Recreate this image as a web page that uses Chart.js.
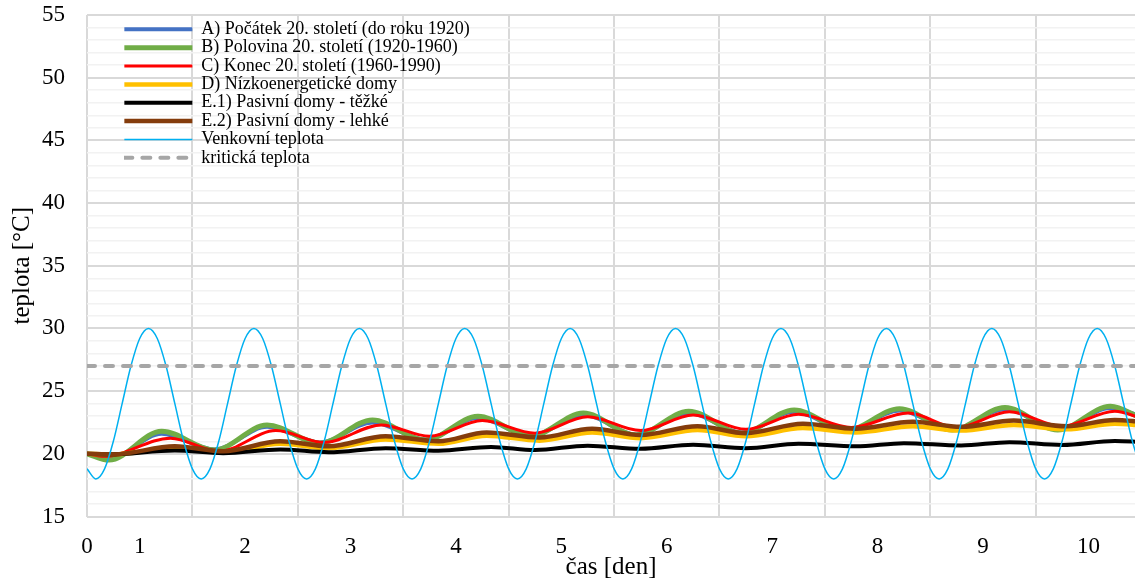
<!DOCTYPE html>
<html lang="cs">
<head>
<meta charset="utf-8">
<title>Teplota v interiéru</title>
<script src="https://cdn.jsdelivr.net/npm/chart.js@4.4.1/dist/chart.umd.min.js"></script>
<style>
  html, body { margin: 0; padding: 0; background: #fff; }
  #obal { width: 1135px; height: 583px; }
</style>
</head>
<body>
<div id="obal"><canvas id="graf"></canvas></div>
<script>
// osa x je v hodinách, popisky ve dnech
const popiskyHodiny = [0, 12, 36, 60, 84, 108, 132, 156, 180, 204, 228];
const popiskyDny = ['0', '1', '2', '3', '4', '5', '6', '7', '8', '9', '10'];

// A) Počátek 20. století (do roku 1920)
const hodinyA = [0, 5, 17, 29, 41, 53, 65, 77, 89, 101, 113, 125, 137, 149, 161, 173, 185, 197, 209, 221, 233, 240];
const teplotyA = [20.0, 19.6, 21.6, 20.35, 22.15, 20.9, 22.5, 21.15, 22.85, 21.45, 23.1, 21.55, 23.25, 21.7, 23.35, 21.9, 23.45, 21.95, 23.55, 21.95, 23.65, 23.0];

// B) Polovina 20. století (1920-1960)
const hodinyB = [0, 5, 17, 29, 41, 53, 65, 77, 89, 101, 113, 125, 137, 149, 161, 173, 185, 197, 209, 221, 233, 240];
const teplotyB = [20.0, 19.5, 21.8, 20.3, 22.3, 20.85, 22.7, 21.1, 23.0, 21.4, 23.25, 21.5, 23.4, 21.65, 23.5, 21.9, 23.6, 21.9, 23.7, 21.9, 23.8, 22.85];

// C) Konec 20. století (1960-1990)
const hodinyC = [0, 4, 19, 30, 43, 54, 67, 78, 90, 102, 114, 126, 138, 150, 162, 174, 187, 198, 210, 222, 234, 240];
const teplotyC = [20.0, 19.8, 21.25, 20.2, 21.85, 20.9, 22.3, 21.4, 22.65, 21.65, 22.95, 21.85, 23.1, 21.95, 23.15, 22.1, 23.25, 22.1, 23.35, 22.2, 23.4, 22.85];

// D) Nízkoenergetické domy
const hodinyD = [0, 6, 20, 31, 44, 55, 68, 80, 91, 103, 115, 126, 139, 150, 163, 175, 188, 199, 211, 223, 234, 240];
const teplotyD = [20.0, 19.95, 20.45, 20.1, 20.8, 20.45, 21.15, 20.8, 21.45, 21.05, 21.7, 21.25, 21.9, 21.4, 22.05, 21.7, 22.2, 21.85, 22.3, 21.95, 22.4, 22.25];

// E.1) Pasivní domy - těžké
const hodinyE1 = [0, 5, 20, 31, 44, 55, 68, 80, 92, 102, 114, 126, 138, 150, 162, 175, 186, 199, 210, 222, 234, 240];
const teplotyE1 = [20.0, 19.95, 20.27, 20.05, 20.35, 20.12, 20.45, 20.25, 20.55, 20.3, 20.65, 20.4, 20.72, 20.45, 20.8, 20.6, 20.85, 20.66, 20.93, 20.7, 21.02, 20.95];

// E.2) Pasivní domy - lehké
const hodinyE2 = [0, 6, 20, 31, 44, 55, 68, 80, 91, 103, 115, 126, 139, 150, 163, 175, 188, 199, 211, 223, 234, 240];
const teplotyE2 = [20.0, 19.95, 20.6, 20.2, 21.0, 20.6, 21.4, 21.0, 21.7, 21.3, 22.0, 21.5, 22.2, 21.65, 22.4, 22.0, 22.55, 22.15, 22.65, 22.2, 22.7, 22.55];

// venkovní teplota po 2 hodinách
const hodinyVenku = [
  0, 2, 4, 6, 8, 10, 12, 14, 16, 18, 20, 22,
  24, 26, 28, 30, 32, 34, 36, 38, 40, 42, 44, 46,
  48, 50, 52, 54, 56, 58, 60, 62, 64, 66, 68, 70,
  72, 74, 76, 78, 80, 82, 84, 86, 88, 90, 92, 94,
  96, 98, 100, 102, 104, 106, 108, 110, 112, 114, 116, 118,
  120, 122, 124, 126, 128, 130, 132, 134, 136, 138, 140, 142,
  144, 146, 148, 150, 152, 154, 156, 158, 160, 162, 164, 166,
  168, 170, 172, 174, 176, 178, 180, 182, 184, 186, 188, 190,
  192, 194, 196, 198, 200, 202, 204, 206, 208, 210, 212, 214,
  216, 218, 220, 222, 224, 226, 228, 230, 232, 234, 236, 238,
  240
];
const teplotyVenku = [
  18.8, 18.0, 18.8, 21.0, 24.0, 27.0, 29.2, 30.0, 29.2, 27.0, 24.0, 21.0,
  18.8, 18.0, 18.8, 21.0, 24.0, 27.0, 29.2, 30.0, 29.2, 27.0, 24.0, 21.0,
  18.8, 18.0, 18.8, 21.0, 24.0, 27.0, 29.2, 30.0, 29.2, 27.0, 24.0, 21.0,
  18.8, 18.0, 18.8, 21.0, 24.0, 27.0, 29.2, 30.0, 29.2, 27.0, 24.0, 21.0,
  18.8, 18.0, 18.8, 21.0, 24.0, 27.0, 29.2, 30.0, 29.2, 27.0, 24.0, 21.0,
  18.8, 18.0, 18.8, 21.0, 24.0, 27.0, 29.2, 30.0, 29.2, 27.0, 24.0, 21.0,
  18.8, 18.0, 18.8, 21.0, 24.0, 27.0, 29.2, 30.0, 29.2, 27.0, 24.0, 21.0,
  18.8, 18.0, 18.8, 21.0, 24.0, 27.0, 29.2, 30.0, 29.2, 27.0, 24.0, 21.0,
  18.8, 18.0, 18.8, 21.0, 24.0, 27.0, 29.2, 30.0, 29.2, 27.0, 24.0, 21.0,
  18.8, 18.0, 18.8, 21.0, 24.0, 27.0, 29.2, 30.0, 29.2, 27.0, 24.0, 21.0,
  18.8
];

// kritická teplota
const hodinyKrit = [0, 240];
const teplotyKrit = [27, 27];

const body = (hodiny, teploty) => hodiny.map((h, i) => ({ x: h, y: teploty[i] }));

const pismo = "'Liberation Serif', 'Times New Roman', serif";

// vlastní poloha legendy uvnitř grafu
const posunLegendy = {
  id: 'posunLegendy',
  afterLayout(chart) {
    const ca = chart.chartArea;
    chart.legend.left = ca.left + 37;
    chart.legend.top = ca.top + 5;
  }
};

function rada(label, hodiny, teploty, barva, sirka, dalsi) {
  return Object.assign({
    label: label,
    data: body(hodiny, teploty),
    borderColor: barva,
    backgroundColor: barva,
    borderWidth: sirka,
    pointRadius: 0,
    pointHoverRadius: 0,
    cubicInterpolationMode: 'monotone',
    fill: false
  }, dalsi || {});
}

// pořadí je obrácené, aby se první řada kreslila vespod
const datasets = [
  rada('kritická teplota', hodinyKrit, teplotyKrit, '#A6A6A6', 4, { borderDash: [8, 10], borderCapStyle: 'round' }),
  rada('Venkovní teplota', hodinyVenku, teplotyVenku, '#00B0F0', 1.5),
  rada('E.2) Pasivní domy - lehké', hodinyE2, teplotyE2, '#843C0C', 4.5),
  rada('E.1) Pasivní domy - těžké', hodinyE1, teplotyE1, '#000000', 4),
  rada('D) Nízkoenergetické domy', hodinyD, teplotyD, '#FFC000', 4.5),
  rada('C) Konec 20. století (1960-1990)', hodinyC, teplotyC, '#FF0000', 3),
  rada('B) Polovina 20. století (1920-1960)', hodinyB, teplotyB, '#70AD47', 5),
  rada('A) Počátek 20. století (do roku 1920)', hodinyA, teplotyA, '#4472C4', 4)
];

// v legendě čáry stejné jako v grafu, včetně přerušované
function polozkyLegendy(chart) {
  const polozky = Chart.defaults.plugins.legend.labels.generateLabels(chart);
  polozky.forEach((p) => {
    const ds = chart.data.datasets[p.datasetIndex];
    p.strokeStyle = ds.borderColor;
    p.lineWidth = ds.borderWidth;
    p.lineDash = ds.borderDash || [];
    p.lineCap = ds.borderCapStyle || 'butt';
  });
  return polozky;
}

const ctx = document.getElementById('graf').getContext('2d');
const graf = new Chart(ctx, {
  type: 'line',
  data: { datasets: datasets },
  plugins: [posunLegendy],
  options: {
    responsive: true,
    maintainAspectRatio: false,
    animation: false,
    devicePixelRatio: 1,
    layout: { padding: { left: 0, top: 15, right: 0, bottom: 0 } },
    plugins: {
      tooltip: { enabled: false },
      legend: {
        position: 'chartArea',
        align: 'start',
        reverse: true,
        labels: {
          usePointStyle: true,
          pointStyle: 'line',
          pointStyleWidth: 68,
          boxWidth: 68,
          padding: 0.35,
          color: '#000',
          font: { family: pismo, size: 18 },
          generateLabels: polozkyLegendy
        }
      }
    },
    scales: {
      x: {
        type: 'linear',
        min: 0,
        // poslední den je na pravém okraji useknutý
        max: 238.6,
        afterFit(scale) {
          scale.height = 66.5;
          scale.paddingLeft = 0;
          scale.paddingRight = 0;
        },
        border: { display: false },
        grid: {
          drawTicks: false,
          lineWidth: 2,
          color: (c) => (c.tick && c.tick.value % 24 === 0) ? '#D9D9D9' : 'rgba(0,0,0,0)'
        },
        ticks: {
          stepSize: 12,
          includeBounds: false,
          autoSkip: false,
          maxRotation: 0,
          padding: 17,
          color: '#000',
          font: { family: pismo, size: 23 },
          callback(value) {
            const i = popiskyHodiny.indexOf(value);
            return i >= 0 ? popiskyDny[i] : '';
          }
        },
        title: {
          display: true,
          text: 'čas [den]',
          color: '#000',
          font: { family: pismo, size: 25 },
          padding: { top: 0, bottom: 1 }
        }
      },
      y: {
        min: 15,
        max: 55,
        afterFit(scale) {
          scale.width = 87;
          scale.paddingTop = 0;
          scale.paddingBottom = 0;
        },
        border: { display: false },
        grid: {
          drawTicks: false,
          lineWidth: (c) => (c.tick && c.tick.value % 5 === 0) ? 2 : 1.5,
          color: (c) => (c.tick && c.tick.value % 5 === 0) ? '#D9D9D9' : '#F2F2F2'
        },
        ticks: {
          stepSize: 1,
          autoSkip: false,
          padding: 22,
          color: '#000',
          font: { family: pismo, size: 23 },
          callback(value) {
            return value % 5 === 0 ? String(value) : '';
          }
        },
        title: {
          display: true,
          text: 'teplota [°C]',
          color: '#000',
          font: { family: pismo, size: 25 },
          padding: { top: 7, bottom: 0 }
        }
      }
    }
  }
});
</script>
</body>
</html>
